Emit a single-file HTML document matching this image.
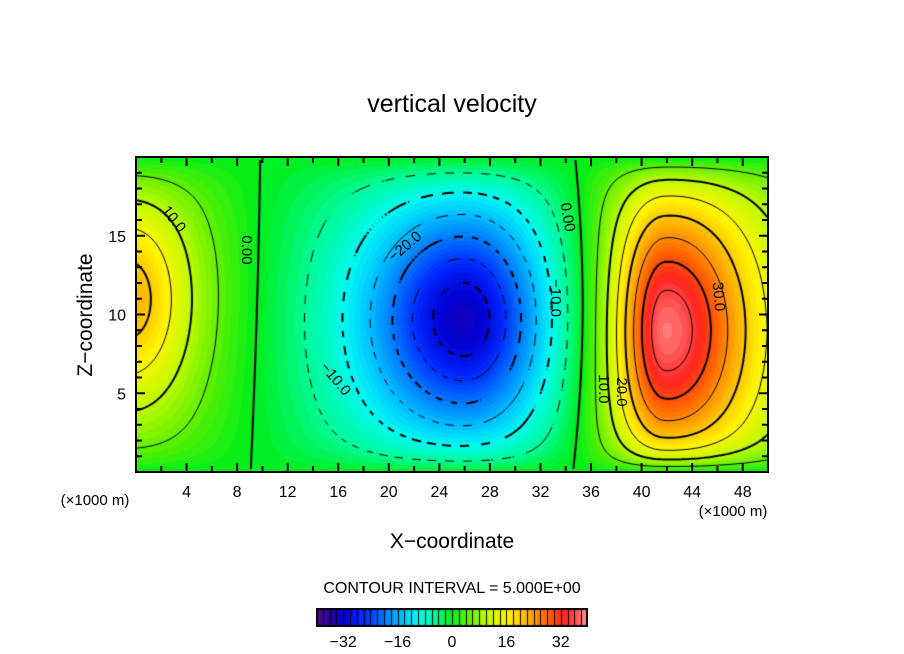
<!DOCTYPE html>
<html><head><meta charset="utf-8"><style>
body{margin:0;background:#fff;width:904px;height:654px;overflow:hidden;position:relative;font-family:"Liberation Sans",sans-serif}
canvas{position:absolute}
svg{position:absolute;left:0;top:0}
text{font-family:"Liberation Sans",sans-serif;fill:#000}
</style></head><body>
<canvas id="plot" width="632" height="315" style="left:136px;top:157px"></canvas>
<canvas id="cbar" width="272" height="19" style="left:316px;top:608px"></canvas>
<svg id="ov" width="904" height="654">
<text x="452" y="112" font-size="25" text-anchor="middle">vertical velocity</text>
<text x="452" y="548" font-size="21" text-anchor="middle">X−coordinate</text>
<text transform="translate(92,315) rotate(-90)" font-size="21" text-anchor="middle">Z−coordinate</text>
<text x="95" y="505" font-size="15" text-anchor="middle">(×1000 m)</text>
<text x="733" y="516" font-size="15" text-anchor="middle">(×1000 m)</text>
<text x="452" y="593" font-size="16" text-anchor="middle">CONTOUR INTERVAL = 5.000E+00</text>
<g font-size="15">
<text transform="translate(170,222) rotate(52)" text-anchor="middle">10.0</text>
<text transform="translate(242,250) rotate(90)" text-anchor="middle">0.00</text>
<text transform="translate(408,250) rotate(-40)" text-anchor="middle">−20.0</text>
<text transform="translate(332,382) rotate(50)" text-anchor="middle">−10.0</text>
<text transform="translate(551,298) rotate(90)" text-anchor="middle">−10.0</text>
<text transform="translate(563,218) rotate(80)" text-anchor="middle">0.00</text>
<text transform="translate(714,297) rotate(85)" text-anchor="middle">30.0</text>
<text transform="translate(617,392) rotate(90)" text-anchor="middle">20.0</text>
<text transform="translate(599,389) rotate(90)" text-anchor="middle">10.0</text>
</g>
<g id="axes"></g>
</svg>
<script>
// field model: elliptical blobs
const blobAmp=[23,-34,40];
const blobX=[-0.5,26,41.8];
const blobZ=[11,9.7,9.0];
const blobSxL=[3.5,5,2.7];
const blobSxR=[3.5,4.2,4.8];
const blobSz=[4.9,4.8,6.2];
const xTicks=[4,8,12,16,20,24,28,32,36,40,44,48];
const zTicks=[5,10,15];
const cbTicks=[-32,-16,0,16,32];
const levels=[-35,-30,-25,-20,-15,-10,-5,0,5,10,15,20,25,30,35];
const X0=136,X1=768,Y0=157,Y1=472,XMAX=50,ZMAX=20;
const sx=x=>X0+x/XMAX*(X1-X0), sz=z=>Y1-z/ZMAX*(Y1-Y0);
function field(x,z){let v=0;for(let i=0;i<blobAmp.length;i++){const dx=x-blobX[i];const s=dx<0?blobSxL[i]:blobSxR[i];const r2=(dx/s)**2+((z-blobZ[i])/blobSz[i])**2;v+=blobAmp[i]*Math.exp(1-Math.sqrt(1+r2));}
return v*(1-Math.exp(-z/1.1))*(1-Math.exp(-(ZMAX-z)/1.5));}
const stops=[[-40,[90,0,130]],[-36,[40,0,170]],[-32,[0,0,210]],[-26,[0,40,255]],[-20,[0,120,255]],[-14,[0,200,255]],[-10,[0,250,240]],[-5,[0,250,150]],[0,[0,238,25]],[5,[100,240,0]],[10,[190,250,0]],[16,[255,245,0]],[22,[255,180,0]],[28,[255,100,0]],[33,[255,35,30]],[37,[255,90,90]],[40,[255,160,160]]];
function col(v){v=Math.floor(v)+0.5;if(v<=-40)return stops[0][1];if(v>=40)return stops[stops.length-1][1];
for(let i=0;i<stops.length-1;i++){const a=stops[i],b=stops[i+1];if(v>=a[0]&&v<=b[0]){const t=(v-a[0])/(b[0]-a[0]);return a[1].map((c,k)=>Math.round(c+(b[1][k]-c)*t));}}return [0,0,0];}
// fill
const pc=document.getElementById('plot'),g=pc.getContext('2d');const W=pc.width,H=pc.height;
const img=g.createImageData(W,H);
for(let j=0;j<H;j++)for(let i=0;i<W;i++){const x=(i+0.5)/W*XMAX,z=(H-j-0.5)/H*ZMAX;const c=col(field(x,z));const p=(j*W+i)*4;img.data[p]=c[0];img.data[p+1]=c[1];img.data[p+2]=c[2];img.data[p+3]=255;}
g.putImageData(img,0,0);
// contours (marching squares)
const st=3,nx=Math.ceil(W/st),ny=Math.ceil(H/st);const F=[];
for(let j=0;j<=ny;j++){F.push([]);for(let i=0;i<=nx;i++)F[j].push(field(Math.min(i*st,W)/W*XMAX,(H-Math.min(j*st,H))/H*ZMAX));}
for(const L of levels){g.beginPath();g.lineWidth=(L%10===0)?2:1;g.strokeStyle='#000';
for(let j=0;j<ny;j++)for(let i=0;i<nx;i++){if(L<0&&Math.floor((i+j)/3)%2===1)continue;const a=F[j][i],b=F[j][i+1],c=F[j+1][i+1],d=F[j+1][i];const pts=[];
const e=(v1,v2,x1,y1,x2,y2)=>{if((v1-L)*(v2-L)<0){const t=(L-v1)/(v2-v1);pts.push([x1+(x2-x1)*t,y1+(y2-y1)*t]);}};
const x=i*st,y=j*st;e(a,b,x,y,x+st,y);e(b,c,x+st,y,x+st,y+st);e(c,d,x+st,y+st,x,y+st);e(d,a,x,y+st,x,y);
for(let k=0;k+1<pts.length;k+=2){g.moveTo(pts[k][0],pts[k][1]);g.lineTo(pts[k+1][0],pts[k+1][1]);}}
g.stroke();}
// colorbar
const cc=document.getElementById('cbar').getContext('2d');
for(let v=-40;v<40;v++){const c=col(v);cc.fillStyle=`rgb(${c})`;const x0=(v+40)/80*272,x1=(v+41)/80*272;cc.fillRect(x0,0,x1-x0+0.5,19);if(v%2===0){cc.fillStyle='#000';cc.fillRect(Math.round(x0),0,1,19);}}
cc.strokeStyle='#000';cc.lineWidth=2;cc.strokeRect(1,1,270,17);
// axes
const ns='http://www.w3.org/2000/svg',ax=document.getElementById('axes');
function mk(t,at){const e=document.createElementNS(ns,t);for(const k in at)e.setAttribute(k,at[k]);ax.appendChild(e);return e;}
const fr=mk('rect',{x:X0,y:Y0,width:X1-X0,height:Y1-Y0,fill:'none',stroke:'#000','stroke-width':2});


for(let x=2;x<XMAX;x+=2){const big=x%4===0?9:6;const px=sx(x);
const t1=mk('line',{x1:px,y1:Y1,x2:px,y2:Y1-big,stroke:'#000','stroke-width':2});


const t2=mk('line',{x1:px,y1:Y0,x2:px,y2:Y0+big,stroke:'#000','stroke-width':2});

}
for(let z=1;z<ZMAX;z++){const big=z%5===0?9:6;const py=sz(z);
const t1=mk('line',{x1:X0,y1:py,x2:X0+big,y2:py,stroke:'#000','stroke-width':2});


const t2=mk('line',{x1:X1,y1:py,x2:X1-big,y2:py,stroke:'#000','stroke-width':2});

}
for(const x of xTicks){const t=mk('text',{x:sx(x),y:497,'font-size':16,'text-anchor':'middle'});t.textContent=x;

}
for(const z of zTicks){const t=mk('text',{x:126,y:sz(z)+6,'font-size':16,'text-anchor':'end'});t.textContent=z;

}
for(const v of cbTicks){const t=mk('text',{x:316+(v+40)/80*272,y:647,'font-size':16,'text-anchor':'middle'});t.textContent=v<0?'−'+(-v):v;

}
</script>
</body></html>
